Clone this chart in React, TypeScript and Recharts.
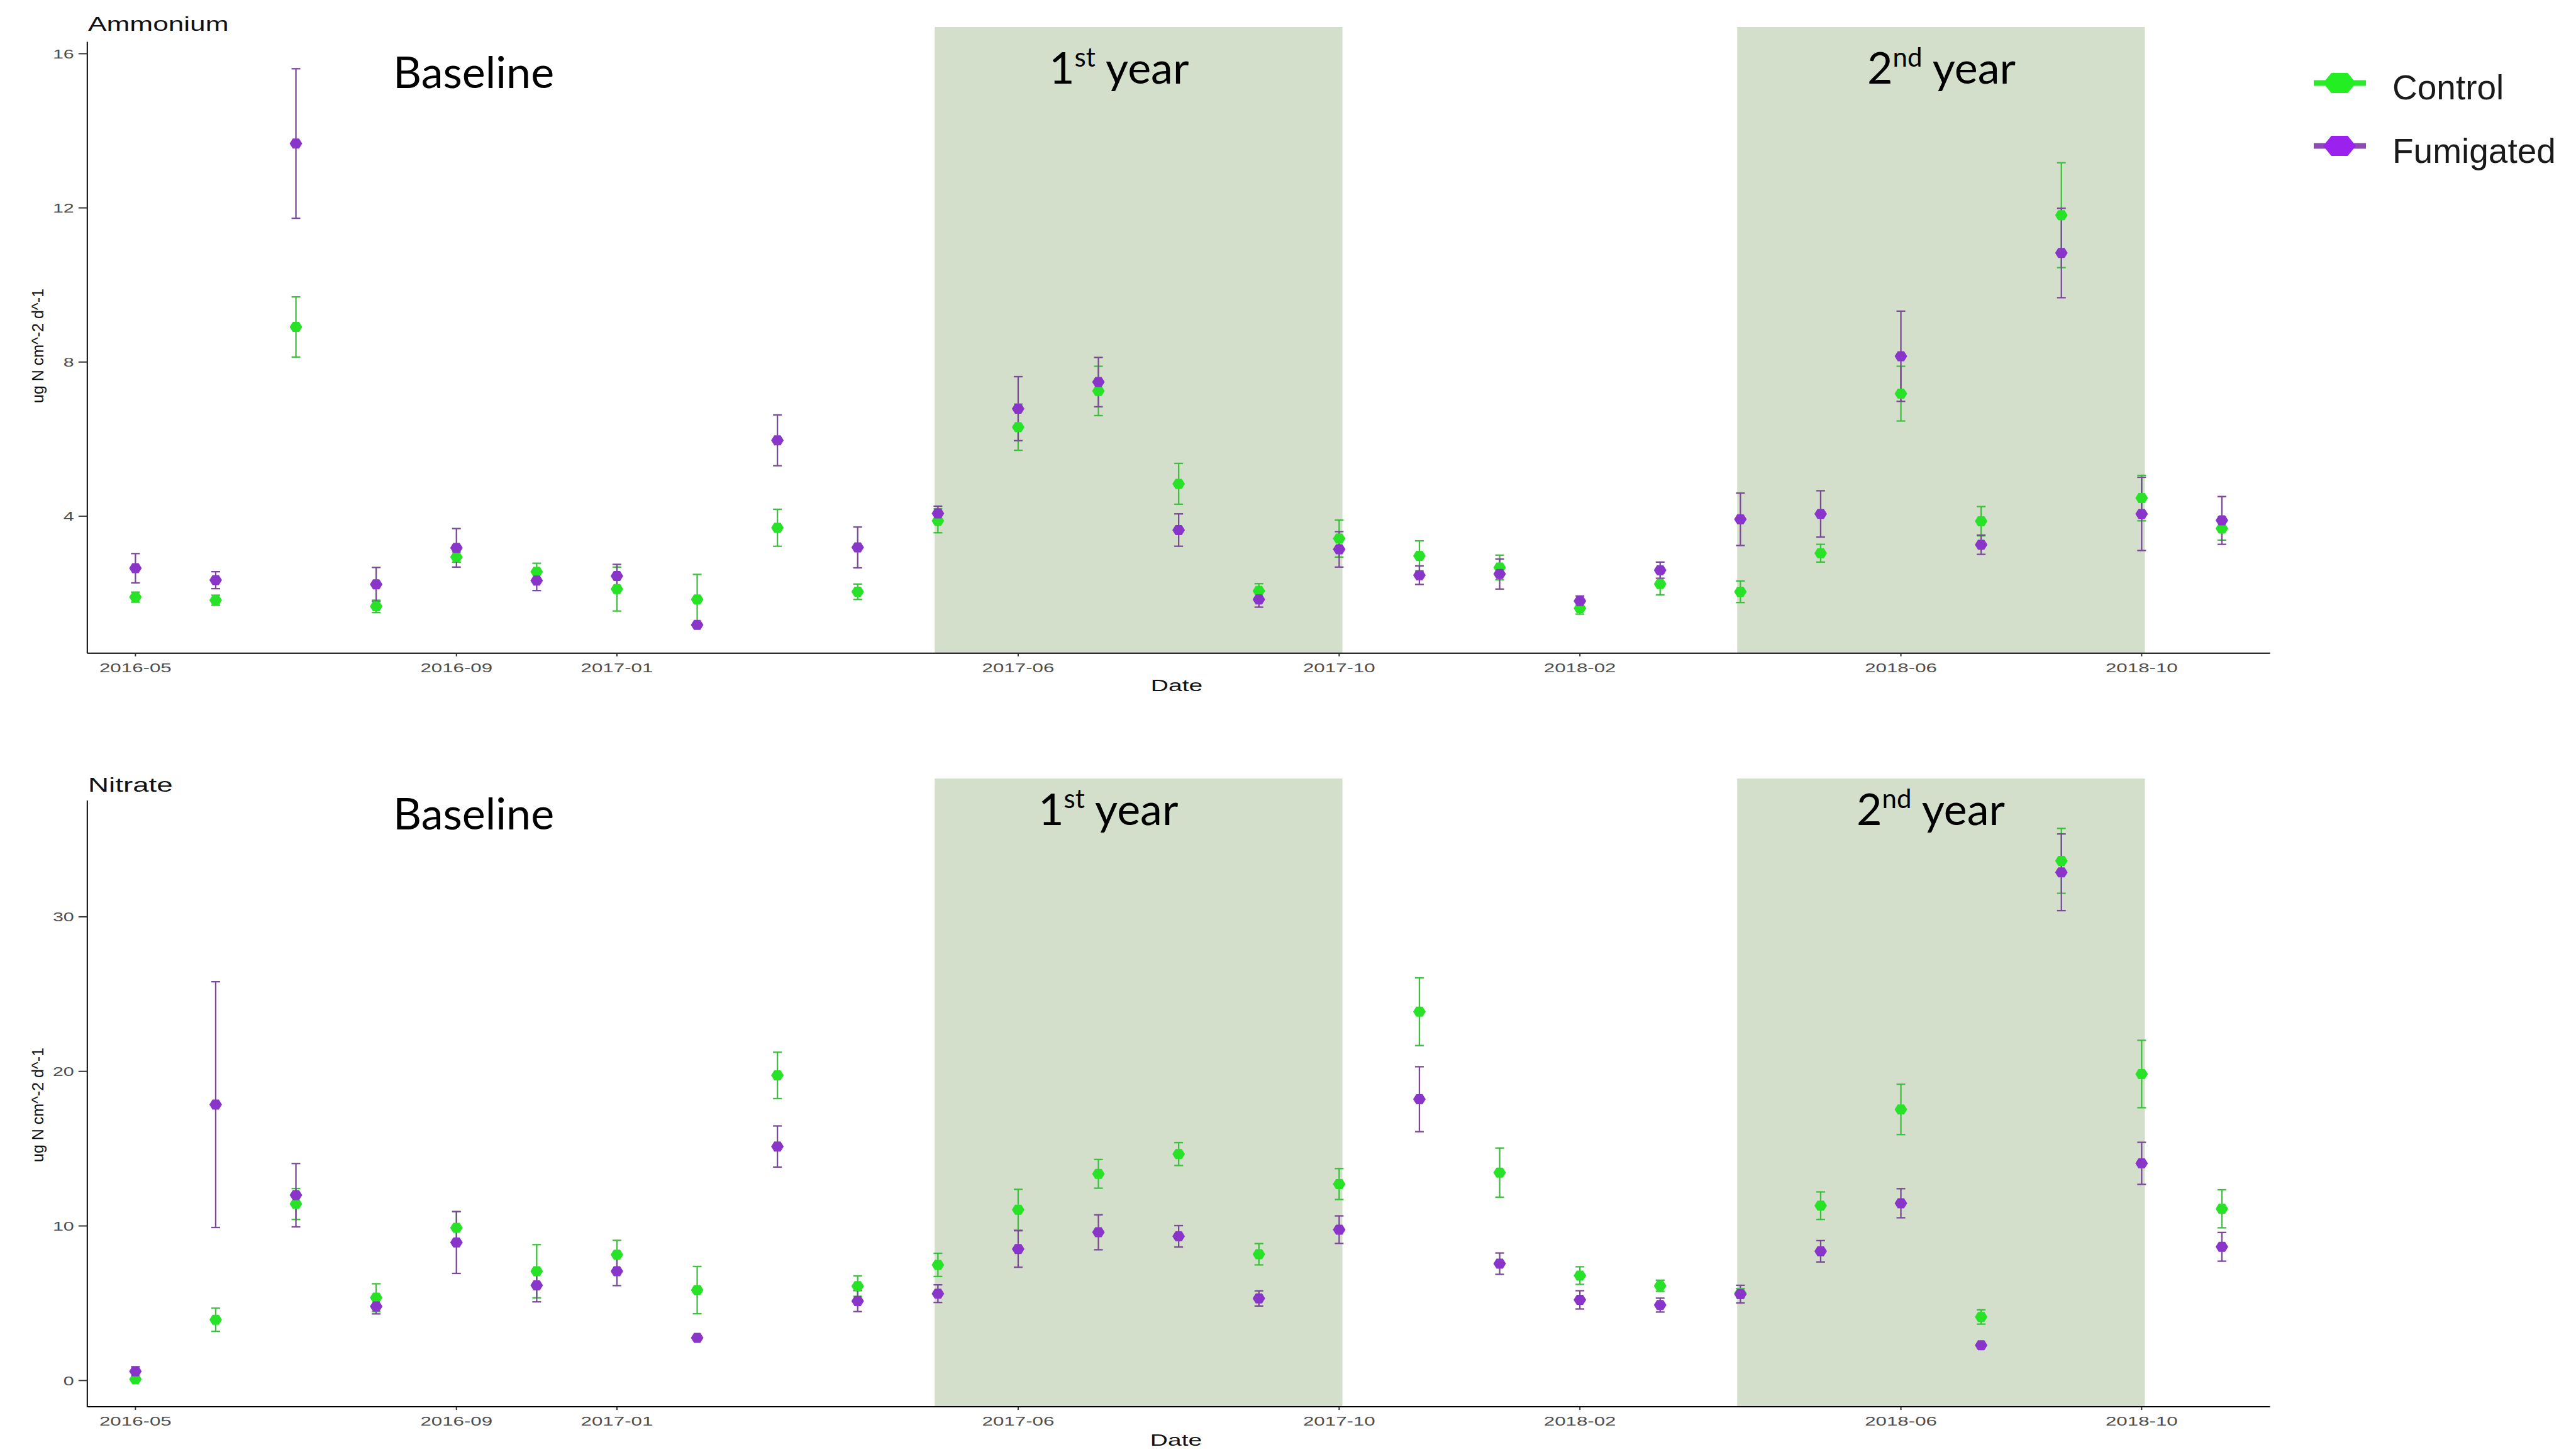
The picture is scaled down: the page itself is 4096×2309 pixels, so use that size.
import React from 'react';
import { ScatterChart, Scatter, XAxis, YAxis, ErrorBar, ReferenceArea } from 'recharts';

// ---------------- data ----------------
const sampleIdx = [0, 1, 2, 3, 4, 5, 6, 7, 8, 9, 10, 11, 12, 13, 14, 15, 16, 17, 18, 19, 20, 21, 22, 23, 24, 25, 26];
const tickIdx = [0, 4, 6, 11, 15, 18, 22, 25];
const tickLabels = ['2016-05', '2016-09', '2017-01', '2017-06', '2017-10', '2018-02', '2018-06', '2018-10'];

const nh4Control = [1.9, 1.82, 8.91, 1.66, 2.94, 2.56, 2.11, 1.84, 3.7, 2.04, 3.88, 6.31, 7.25, 4.84, 2.06, 3.42, 2.97, 2.67, 1.61, 2.24, 2.04, 3.04, 7.18, 3.87, 11.81, 4.47, 3.68];
const nh4ControlSe = [0.13, 0.13, 0.78, 0.16, 0.13, 0.22, 0.57, 0.65, 0.48, 0.2, 0.31, 0.6, 0.64, 0.53, 0.19, 0.48, 0.39, 0.32, 0.15, 0.28, 0.28, 0.23, 0.71, 0.38, 1.36, 0.59, 0.3];
const nh4Fumigated = [2.65, 2.34, 13.67, 2.23, 3.18, 2.33, 2.45, 1.18, 5.97, 3.19, 4.07, 6.79, 7.48, 3.64, 1.84, 3.14, 2.47, 2.5, 1.8, 2.6, 3.92, 4.06, 8.15, 3.26, 10.83, 4.06, 3.89];
const nh4FumigatedSe = [0.38, 0.22, 1.94, 0.44, 0.5, 0.26, 0.3, 0, 0.66, 0.53, 0.19, 0.83, 0.64, 0.42, 0.2, 0.46, 0.24, 0.39, 0.13, 0.21, 0.68, 0.6, 1.17, 0.25, 1.16, 0.95, 0.62];

const no3Control = [0.08, 3.93, 11.42, 5.36, 9.88, 7.07, 8.14, 5.85, 19.74, 6.11, 7.48, 11.05, 13.37, 14.65, 8.17, 12.71, 23.86, 13.45, 6.79, 6.13, 5.65, 11.31, 17.54, 4.11, 33.62, 19.83, 11.11];
const no3ControlSe = [0.05, 0.75, 1.0, 0.9, 1.04, 1.72, 0.93, 1.53, 1.5, 0.66, 0.75, 1.32, 0.93, 0.74, 0.69, 1.0, 2.19, 1.59, 0.57, 0.36, 0.3, 0.89, 1.63, 0.46, 2.1, 2.18, 1.23];
const no3Fumigated = [0.59, 17.85, 11.99, 4.79, 8.93, 6.16, 7.07, 2.76, 15.14, 5.14, 5.62, 8.51, 9.59, 9.33, 5.31, 9.76, 18.2, 7.56, 5.22, 4.88, 5.59, 8.36, 11.47, 2.28, 32.88, 14.05, 8.65];
const no3FumigatedSe = [0.3, 7.95, 2.05, 0.48, 2.0, 1.07, 0.93, 0, 1.33, 0.68, 0.57, 1.18, 1.13, 0.69, 0.49, 0.89, 2.1, 0.69, 0.59, 0.45, 0.57, 0.69, 0.94, 0, 2.48, 1.36, 0.93];

const shadeStart = [9.96, 19.96];
const shadeEnd = [15.04, 25.04];
const seriesNames = ['Control', 'Fumigated'];

// ---------------- styles ----------------
const FONT = '"Liberation Sans", Arial, Helvetica, sans-serif';
const CAL = 'Lato, "Open Sans", sans-serif';
const C_PT = '#27e227';
const C_ERR = '#3fbf3f';
const F_PT = '#8a35c9';
const F_ERR = '#7a4a97';
const SHADE = '#d3dfca';
const TICK_COLOR = '#4d4d4d';

const rows = (vals: number[], errs: number[]) =>
  sampleIdx.map((x, i) => ({ x, y: vals[i], err: errs[i] }));

const labelFor = (v: number) => {
  const k = tickIdx.indexOf(v);
  return k >= 0 ? tickLabels[k] : '';
};

const hex = (cx: number, cy: number, w: number, h: number) =>
  `${cx - w},${cy} ${cx - w / 2},${cy - h} ${cx + w / 2},${cy - h} ${cx + w},${cy} ${cx + w / 2},${cy + h} ${cx - w / 2},${cy + h}`;

const SText = ({ x, y, sx = 1, anchor = 'start', size, fill = '#000', family = FONT, children }: any) => (
  <text
    transform={`translate(${x},${y}) scale(${sx},1)`}
    textAnchor={anchor}
    fontSize={size}
    fill={fill}
    fontFamily={family}
  >
    {children}
  </text>
);

const XTick = (props: any) => {
  const { x, y, payload } = props;
  return (
    <SText x={x} y={y + 25} sx={1.49} anchor="middle" size={21} fill={TICK_COLOR}>
      {labelFor(payload.value)}
    </SText>
  );
};

const YTick = (props: any) => {
  const { x, y, payload } = props;
  return (
    <SText x={x} y={y + 7.5} sx={1.45} anchor="end" size={21} fill={TICK_COLOR}>
      {payload.value}
    </SText>
  );
};

const pointShape = (fill: string) => (p: any) => (
  <polygon points={hex(p.cx, p.cy, 10, 8)} fill={fill} />
);

type PanelProps = {
  top: number;
  height: number;
  margin: { top: number; right: number; bottom: number; left: number };
  yDomain: [number, number];
  yTicks: number[];
  shadeTop: number;
  control: number[];
  controlSe: number[];
  fumigated: number[];
  fumigatedSe: number[];
};

const Panel = (p: PanelProps) => (
  <div style={{ position: 'absolute', left: 0, top: p.top }}>
    <ScatterChart width={4096} height={p.height} margin={p.margin}>
      <XAxis
        type="number"
        dataKey="x"
        domain={[-0.6, 26.6]}
        allowDataOverflow
        ticks={tickIdx}
        interval={0}
        height={60}
        tick={<XTick />}
        tickSize={5}
        tickMargin={0}
        axisLine={{ stroke: '#000', strokeWidth: 2 }}
        tickLine={{ stroke: '#333', strokeWidth: 2 }}
      />
      <YAxis
        type="number"
        dataKey="y"
        domain={p.yDomain}
        allowDataOverflow
        ticks={p.yTicks}
        interval={0}
        width={60}
        tick={<YTick />}
        tickSize={14}
        tickMargin={7}
        axisLine={{ stroke: '#000', strokeWidth: 2 }}
        tickLine={{ stroke: '#333', strokeWidth: 2 }}
      />
      {shadeStart.map((s, i) => (
        <ReferenceArea
          key={i}
          x1={s}
          x2={shadeEnd[i]}
          y1={p.yDomain[0]}
          y2={p.shadeTop}
          ifOverflow="visible"
          fill={SHADE}
          fillOpacity={1}
          stroke="none"
        />
      ))}
      <Scatter
        name={seriesNames[0]}
        data={rows(p.control, p.controlSe)}
        fill={C_PT}
        shape={pointShape(C_PT)}
        isAnimationActive={false}
      >
        <ErrorBar dataKey="err" direction="y" width={7} strokeWidth={2.3} stroke={C_ERR} />
      </Scatter>
      <Scatter
        name={seriesNames[1]}
        data={rows(p.fumigated, p.fumigatedSe)}
        fill={F_PT}
        shape={pointShape(F_PT)}
        isAnimationActive={false}
      >
        <ErrorBar dataKey="err" direction="y" width={7} strokeWidth={2.3} stroke={F_ERR} />
      </Scatter>
    </ScatterChart>
  </div>
);

const YearLabel = ({ x, y, num, sup }: any) => (
  <text x={x} y={y} fontSize={70} fontFamily={CAL} fill="#000">
    {num}
    <tspan fontSize={42} dy={-27}>{sup}</tspan>
    <tspan dy={27}> year</tspan>
  </text>
);

const Overlay = () => (
  <svg width={4096} height={2309} style={{ position: 'absolute', left: 0, top: 0, pointerEvents: 'none' }}>
    {/* panel titles */}
    <SText x={140} y={49} sx={1.45} size={30.5} fill="#111">Ammonium</SText>
    <SText x={140} y={1259} sx={1.5} size={30.5} fill="#111">Nitrate</SText>
    {/* x titles */}
    <SText x={1871} y={1099} sx={1.5} anchor="middle" size={26} fill="#111">Date</SText>
    <SText x={1870} y={2299} sx={1.5} anchor="middle" size={26} fill="#111">Date</SText>
    {/* y titles */}
    <text transform="translate(69,550) rotate(-90)" textAnchor="middle" fontSize={25} fontFamily={FONT} fill="#111">
      ug N cm^-2 d^-1
    </text>
    <text transform="translate(69,1757) rotate(-90)" textAnchor="middle" fontSize={25} fontFamily={FONT} fill="#111">
      ug N cm^-2 d^-1
    </text>
    {/* period annotations */}
    <text x={625} y={140} fontSize={70} fontFamily={CAL} fill="#000">Baseline</text>
    <text x={625} y={1319} fontSize={70} fontFamily={CAL} fill="#000">Baseline</text>
    <YearLabel x={1668} y={133} num="1" sup="st" />
    <YearLabel x={2969} y={133} num="2" sup="nd" />
    <YearLabel x={1651} y={1312} num="1" sup="st" />
    <YearLabel x={2952} y={1312} num="2" sup="nd" />
    {/* legend */}
    <line x1={3679} x2={3762} y1={132} y2={132} stroke="#2ee82e" strokeWidth={9} />
    <polygon points={hex(3720, 132, 26, 16)} fill="#22ee22" />
    <text x={3804} y={158} fontSize={55} fontFamily={FONT} fill="#1a1a1a">{seriesNames[0]}</text>
    <line x1={3679} x2={3762} y1={232} y2={232} stroke="#8c4bb0" strokeWidth={9} />
    <polygon points={hex(3720, 232, 26, 16)} fill="#9b22ee" />
    <text x={3804} y={259} fontSize={55} fontFamily={FONT} fill="#1a1a1a">{seriesNames[1]}</text>
  </svg>
);

export default function App() {
  return (
    <div style={{ position: 'absolute', left: 0, top: 0, width: 4096, height: 2309, background: '#fff', overflow: 'hidden' }}>
      <Panel
        top={0}
        height={1160}
        margin={{ top: 66.4, right: 486.5, bottom: 61.3, left: 78.8 }}
        yDomain={[0.446, 16.31]}
        yTicks={[4, 8, 12, 16]}
        shadeTop={16.69}
        control={nh4Control}
        controlSe={nh4ControlSe}
        fumigated={nh4Fumigated}
        fumigatedSe={nh4FumigatedSe}
      />
      <Panel
        top={1160}
        height={1149}
        margin={{ top: 113.1, right: 486.5, bottom: 11.9, left: 78.8 }}
        yDomain={[-1.7, 37.52]}
        yTicks={[0, 10, 20, 30]}
        shadeTop={38.95}
        control={no3Control}
        controlSe={no3ControlSe}
        fumigated={no3Fumigated}
        fumigatedSe={no3FumigatedSe}
      />
      <Overlay />
    </div>
  );
}
